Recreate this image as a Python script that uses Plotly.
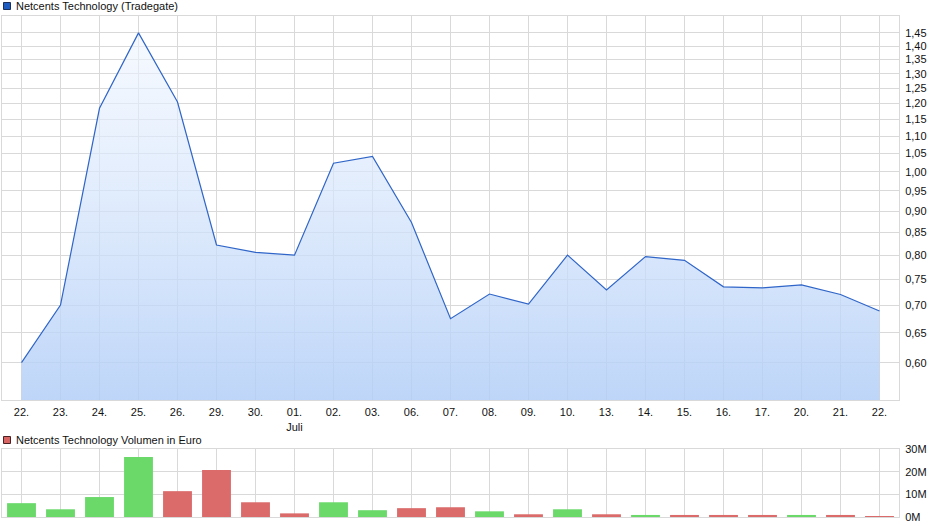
import math
import plotly.graph_objects as go
from plotly.subplots import make_subplots

# Kursdaten (Tradegate), 22.06. - 22.07.
dates = ["2020-06-22", "2020-06-23", "2020-06-24", "2020-06-25", "2020-06-26",
         "2020-06-29", "2020-06-30", "2020-07-01", "2020-07-02", "2020-07-03",
         "2020-07-06", "2020-07-07", "2020-07-08", "2020-07-09", "2020-07-10",
         "2020-07-13", "2020-07-14", "2020-07-15", "2020-07-16", "2020-07-17",
         "2020-07-20", "2020-07-21", "2020-07-22"]
tick_labels = ["22.", "23.", "24.", "25.", "26.", "29.", "30.", "01.<br>Juli", "02.", "03.",
               "06.", "07.", "08.", "09.", "10.", "13.", "14.", "15.", "16.", "17.",
               "20.", "21.", "22."]
price = [0.60, 0.70, 1.185, 1.45, 1.205, 0.822, 0.806, 0.80, 1.023, 1.042,
         0.873, 0.675, 0.721, 0.702, 0.80, 0.729, 0.797, 0.789, 0.735, 0.733,
         0.739, 0.72, 0.689]
# Volumen in Mio. Euro
volume_m = [6.1, 3.4, 8.8, 26.5, 11.4, 20.7, 6.5, 1.6, 6.5, 3.0,
            3.9, 4.3, 2.5, 1.2, 3.4, 1.2, 0.9, 0.9, 0.9, 0.9,
            0.9, 0.9, 0.4]
price_ticks = [0.60, 0.65, 0.70, 0.75, 0.80, 0.85, 0.90, 0.95, 1.00, 1.05,
               1.10, 1.15, 1.20, 1.25, 1.30, 1.35, 1.40, 1.45]
volume_ticks = [0, 10, 20, 30]
volume_tick_labels = ["0M", "10M", "20M", "30M"]

GREEN = "#6ad96a"
RED = "#db6a6a"
GRID = "#d9d9d9"
FONT = "Liberation Sans, Arial, sans-serif"

# Farbe der Volumenbalken: steigend gruen, fallend rot
bar_colors = [GREEN] + [GREEN if price[i] >= price[i - 1] else RED for i in range(1, len(price))]

W, H = 940, 526
L, R, T, B = 2, 41, 16, 9
y_lo, y_hi = 0.543, 1.517


def px_x(px):
    return (px - L) / (W - L - R)


def px_y(py):
    return (H - B - py) / (H - T - B)


fig = make_subplots(rows=2, cols=1, shared_xaxes=False, vertical_spacing=0)

fig.add_trace(go.Scatter(
    x=dates, y=price, mode="lines", fill="tozeroy",
    line=dict(color="#2f65c8", width=1.2),
    fillgradient=dict(type="vertical", start=y_lo, stop=max(price),
                      colorscale=[[0, "rgba(178,206,247,0.85)"], [1, "rgba(240,246,255,0.6)"]]),
    hoverinfo="x+y", showlegend=False,
), row=1, col=1)

fig.add_trace(go.Bar(
    x=dates, y=volume_m, marker=dict(color=bar_colors, line=dict(width=0)),
    width=0.74, showlegend=False,
), row=2, col=1)

axis_common = dict(showline=True, linecolor=GRID, linewidth=1, mirror=True, automargin=False,
                   showgrid=True, gridcolor=GRID, gridwidth=1, zeroline=False)
tick_font = dict(size=11, color="#111", family=FONT)

fig.update_xaxes(type="category", range=[-0.5, len(dates) - 0.5],
                 tickvals=dates, ticktext=tick_labels, ticks="outside", ticklen=2,
                 tickcolor="rgba(0,0,0,0)", tickfont=tick_font,
                 domain=[0, 1], **axis_common)
fig.update_xaxes(showticklabels=False, matches="x", row=2, col=1)

fig.update_yaxes(type="log", range=[math.log10(y_lo), math.log10(y_hi)],
                 tickvals=price_ticks, tickformat=".2f", side="right",
                 ticks="outside", ticklen=3, tickcolor="rgba(0,0,0,0)", tickfont=tick_font,
                 domain=[px_y(400), 1], row=1, col=1, **axis_common)
fig.update_yaxes(range=[0, 30], tickvals=volume_ticks, ticktext=volume_tick_labels, side="right",
                 ticks="outside", ticklen=3, tickcolor="rgba(0,0,0,0)", tickfont=tick_font,
                 domain=[0, px_y(449)], row=2, col=1, **axis_common)

# Legenden-Kaestchen und Texte
fig.add_shape(type="rect", xref="paper", yref="paper",
              x0=px_x(3.5), x1=px_x(10.5), y0=px_y(9.5), y1=px_y(2.5),
              fillcolor="#1f5cc0", line=dict(color="#1a2f5a", width=1))
fig.add_shape(type="rect", xref="paper", yref="paper",
              x0=px_x(3.5), x1=px_x(10.5), y0=px_y(443.5), y1=px_y(436.5),
              fillcolor="#d96464", line=dict(color="#4a2020", width=1))
fig.add_annotation(text="Netcents Technology (Tradegate)", xref="paper", yref="paper",
                   x=px_x(14), y=px_y(6), xanchor="left", yanchor="middle", showarrow=False,
                   font=tick_font)
fig.add_annotation(text="Netcents Technology Volumen in Euro", xref="paper", yref="paper",
                   x=px_x(14), y=px_y(440), xanchor="left", yanchor="middle", showarrow=False,
                   font=tick_font)

fig.update_layout(
    width=W, height=H, margin=dict(l=L, r=R, t=T, b=B),
    paper_bgcolor="white", plot_bgcolor="white",
    separators=",.", bargap=0.26, font=dict(family=FONT, size=11),
)

# Browser-Standardrand entfernen, damit das Bild exakt 940x526 fuellt
fig.write_html("out.html", config={"displayModeBar": False},
               post_script="document.body.style.margin='0';document.body.style.overflow='hidden';")
